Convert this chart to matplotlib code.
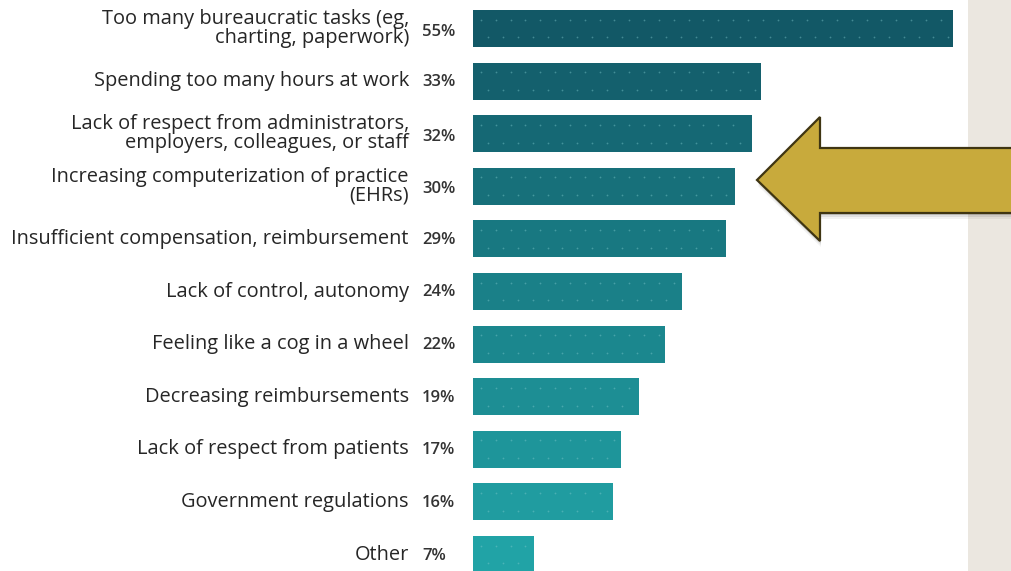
"""
Causes of physician burnout: horizontal bar chart with a callout arrow.
"""

import numpy as np
import matplotlib
matplotlib.use('Agg')
import matplotlib.pyplot as plt
from matplotlib.patches import Polygon, Rectangle
from matplotlib.colors import LinearSegmentedColormap

plt.rcParams['font.family'] = ['Open Sans', 'DejaVu Sans']

causes = [
    'Too many bureaucratic tasks (eg,\ncharting, paperwork)',
    'Spending too many hours at work',
    'Lack of respect from administrators,\nemployers, colleagues, or staff',
    'Increasing computerization of practice\n(EHRs)',
    'Insufficient compensation, reimbursement',
    'Lack of control, autonomy',
    'Feeling like a cog in a wheel',
    'Decreasing reimbursements',
    'Lack of respect from patients',
    'Government regulations',
    'Other',
]
percent = [55, 33, 32, 30, 29, 24, 22, 19, 17, 16, 7]

W, H = 1012, 571
fig = plt.figure(figsize=(W / 100, H / 100), dpi=100)
fig.patch.set_facecolor('white')

# beige strip on the right edge
fig.patches.append(Rectangle((968 / W, 0), 1 - 968 / W, 1, transform=fig.transFigure,
                             facecolor='#ebe7e0', edgecolor='none', zorder=0))

px_per_pct = 480 / 55
ax = fig.add_axes([473 / W, 0, (968 - 473) / W, 1])
ax.set_facecolor('none')
pitch = 52.6
ax.set_xlim(0, (968 - 473) / px_per_pct)
ax.set_ylim((H - 28.5) / pitch, -28.5 / pitch)
ax.axis('off')

cmap = LinearSegmentedColormap.from_list('teal', ['#125866', '#1a8088', '#21a3a6'])
n = len(causes)
ypos = np.arange(n)
colors = [cmap(i / (n - 1)) for i in range(n)]
bar_h = 37 / pitch
ax.barh(ypos, percent, height=bar_h, color=colors, edgecolor='none', zorder=2)

# faint dotted texture on the bars
for y, v in zip(ypos, percent):
    for row, shift in ((-0.17, 0.0), (0.17, 0.85)):
        xs = np.arange(0.9 + shift, v - 0.5, 1.7)
        ax.scatter(xs, np.full_like(xs, y + row), s=1.6, color='#7fc9cc',
                   alpha=0.45, linewidths=0, zorder=3)

for y, label, v in zip(ypos, causes, percent):
    ax.annotate(label, xy=(0, y), xytext=(-64, 0), textcoords='offset pixels',
                ha='right', va='center', fontsize=14.4, color='#262626',
                linespacing=0.92, annotation_clip=False)
    ax.annotate(f'{v}%', xy=(0, y), xytext=(-51, -3 if '\n' in label else -1),
                textcoords='offset pixels', ha='left', va='center',
                fontsize=12, fontweight='semibold', color='#333333',
                annotation_clip=False)

# gold callout arrow pointing at the EHR bar
pts = [(757, 180), (820, 117), (820, 148), (1015, 148),
       (1015, 213), (820, 213), (820, 241)]
def to_fig(p, dx=0, dy=0):
    return [((x + dx) / W, 1 - (y + dy) / H) for x, y in p]

for k, a in ((6, 0.05), (4, 0.08), (2, 0.12)):
    fig.patches.append(Polygon(to_fig(pts, 1, k), closed=True, transform=fig.transFigure,
                               facecolor='black', edgecolor='none', alpha=a, zorder=4))
fig.patches.append(Polygon(to_fig(pts), closed=True, transform=fig.transFigure,
                           facecolor='#c8aa3c', edgecolor='#3f3512', linewidth=1.6,
                           joinstyle='miter', zorder=5))

fig.savefig('out.png', dpi=100)
